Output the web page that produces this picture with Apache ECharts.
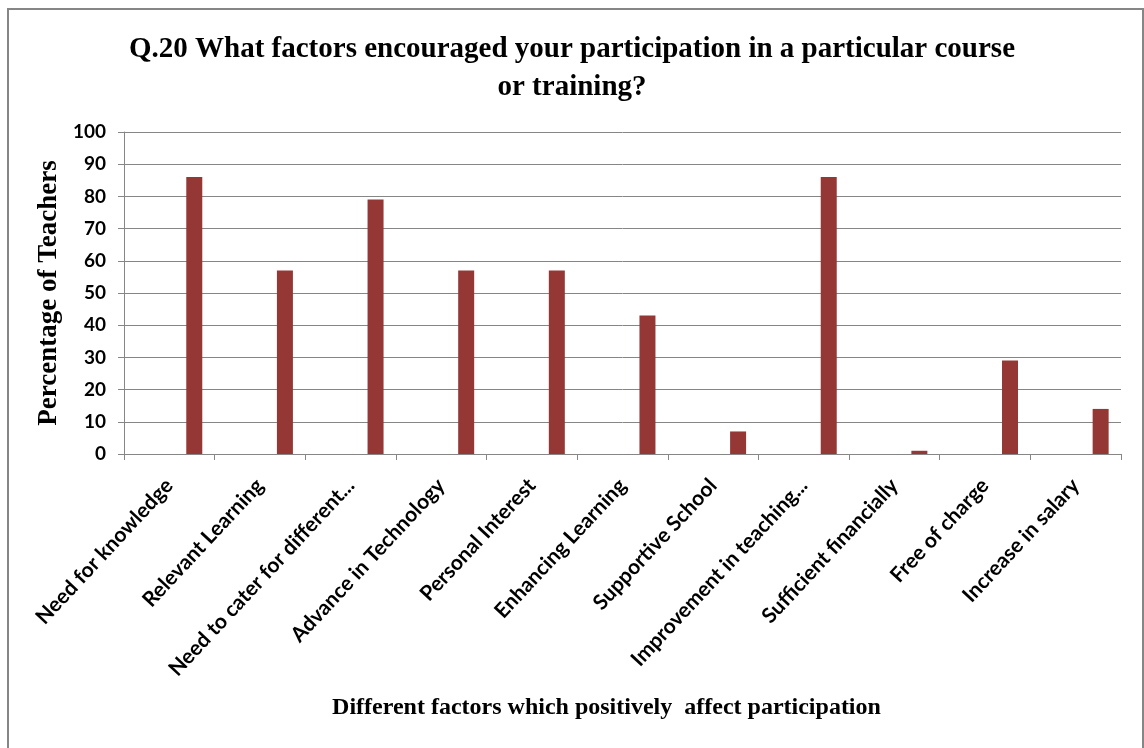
<!DOCTYPE html>
<html>
<head>
<meta charset="utf-8">
<script src="https://cdn.jsdelivr.net/npm/echarts@6/dist/echarts.min.js"></script>
<style>
html,body{margin:0;padding:0;background:#fff;}
#chart{width:1144px;height:748px;}
</style>
</head>
<body>
<div id="chart"></div>
<script>
const categories = [
  "Need for knowledge",
  "Relevant Learning",
  "Need to cater for different...",
  "Advance in Technology",
  "Personal Interest",
  "Enhancing Learning",
  "Supportive School",
  "Improvement in teaching...",
  "Sufficient financially",
  "Free of charge",
  "Increase in salary"
];
const percentages = [86, 57, 79, 57, 57, 43, 7, 86, 1, 29, 14];
const emptySeries = categories.map(() => '-');
const yTicks = [0, 10, 20, 30, 40, 50, 60, 70, 80, 90, 100];

const titleText = "Q.20 What factors encouraged your participation in a particular course\nor training?";
const yName = "Percentage of Teachers";
const xName = "Different factors which positively  affect participation";

const chart = echarts.init(document.getElementById('chart'));
const gray = '#868686';
chart.setOption({
  backgroundColor: '#ffffff',
  animation: false,
  graphic: [{
    type: 'rect',
    shape: {x: 8, y: 9, width: 1135, height: 760},
    style: {fill: 'none', stroke: gray, lineWidth: 2},
    silent: true
  }],
  title: {
    text: titleText,
    left: 'center',
    top: 26,
    textStyle: {
      fontFamily: 'Liberation Serif',
      fontWeight: 'bold',
      fontSize: 29,
      lineHeight: 38,
      color: '#000'
    }
  },
  grid: {left: 124, right: 23, top: 132, bottom: 294, containLabel: false},
  xAxis: {
    type: 'category',
    data: categories,
    name: xName,
    nameLocation: 'middle',
    nameGap: 242,
    nameTextStyle: {fontFamily: 'Liberation Serif', fontWeight: 'bold', fontSize: 24, color: '#000', padding: [0, 32, 0, 0]},
    axisLine: {lineStyle: {color: gray, width: 1}},
    axisTick: {show: true, length: 6, lineStyle: {color: gray}},
    axisLabel: {
      interval: 0,
      rotate: 47,
      margin: 28,
      fontFamily: 'Lato',
      fontWeight: 'bold',
      fontSize: 21,
      color: '#000'
    }
  },
  yAxis: {
    type: 'value',
    min: 0,
    max: 100,
    interval: 10,
    name: yName,
    nameLocation: 'middle',
    nameRotate: 90,
    nameGap: 58,
    nameTextStyle: {fontFamily: 'Liberation Serif', fontWeight: 'bold', fontSize: 27, color: '#000'},
    axisLine: {show: true, lineStyle: {color: gray, width: 1}},
    axisTick: {show: true, length: 6, lineStyle: {color: gray}},
    splitLine: {show: true, lineStyle: {color: gray, width: 1}},
    axisLabel: {
      margin: 18,
      fontFamily: 'Lato',
      fontWeight: 'bold',
      fontSize: 19,
      color: '#000',
      formatter: v => yTicks.includes(v) ? String(v) : ''
    }
  },
  series: [
    {type: 'bar', data: emptySeries, barWidth: 16, barGap: '212%', itemStyle: {color: 'transparent'}},
    {type: 'bar', data: percentages, barWidth: 16, barGap: '212%', itemStyle: {color: '#953735'}}
  ]
});
</script>
</body>
</html>
